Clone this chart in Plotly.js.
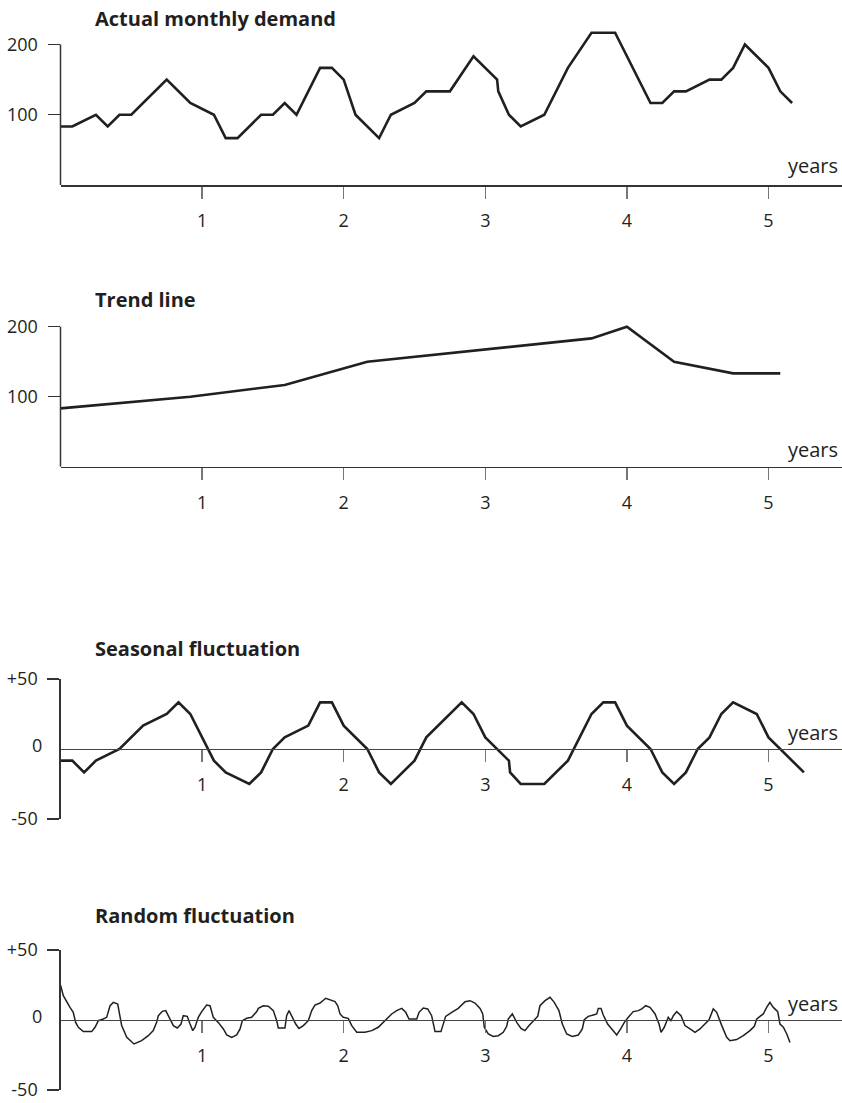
<!DOCTYPE html>
<html>
<head>
<meta charset="utf-8">
<script src="https://cdn.plot.ly/plotly-3.0.1.min.js"></script>
<style>
html,body{margin:0;padding:0;background:#fff;}
#chart{width:842px;height:1103px;}
</style>
</head>
<body>
<div id="chart"></div>
<script>
// ---- Data ----
var xTickValues = [1, 2, 3, 4, 5];
var xTickLabels = ['1', '2', '3', '4', '5'];

var demandMonths = [0,1,3,4,5,6,9,11,13,14,15,17,18,19,20,22,23,24,25,27,28,30,31,33,35,37,37.1,38,39,41,43,45,47,50,51,52,53,55,56,57,58,60,61,62];
var demandValues = [83.3,83.3,100,83.3,100,100,150,116.7,100,66.7,66.7,100,100,116.7,100,166.7,166.7,150,100,66.7,100,116.7,133.3,133.3,183.3,150,133.3,100,83.3,100,166.7,216.7,216.7,116.7,116.7,133.3,133.3,150,150,166.7,200,166.7,133.3,116.7];

var trendMonths = [0, 11, 19, 26, 45, 48, 52, 57, 61];
var trendValues = [83.3, 100, 116.7, 150, 183.3, 200, 150, 133.3, 133.3];

var seasonalMonths = [0,1,2,3,5,7,9,10,11,13,14,16,17,18,19,21,22,23,24,26,27,28,30,31,34,35,36,38,38.1,39,41,43,45,46,47,48,50,51,52,53,54,55,56,57,59,60,63];
var seasonalValues = [-8.3,-8.3,-16.7,-8.3,0,16.7,25,33.3,25,-8.3,-16.7,-25,-16.7,0,8.3,16.7,33.3,33.3,16.7,0,-16.7,-25,-8.3,8.3,33.3,25,8.3,-8.3,-16.7,-25,-25,-8.3,25,33.3,33.3,16.7,0,-16.7,-25,-16.7,0,8.3,25,33.3,25,8.3,-16.7];

var randomYears = [0,0.020,0.067,0.090,0.107,0.126,0.161,0.220,0.244,0.267,0.302,0.326,0.350,0.373,0.404,0.420,0.432,0.468,0.519,0.573,0.620,0.655,0.679,0.691,0.719,0.743,0.766,0.797,0.825,0.851,0.867,0.895,0.915,0.934,0.950,0.973,0.997,1.032,1.056,1.079,1.114,1.150,1.174,1.209,1.244,1.268,1.284,1.315,1.350,1.386,1.397,1.432,1.468,1.503,1.527,1.538,1.585,1.597,1.614,1.633,1.661,1.684,1.715,1.750,1.774,1.797,1.833,1.873,1.903,1.939,1.958,1.974,1.997,2.032,2.057,2.092,2.150,2.198,2.244,2.292,2.339,2.374,2.410,2.438,2.461,2.516,2.532,2.562,2.593,2.621,2.645,2.687,2.703,2.720,2.763,2.809,2.857,2.892,2.927,2.963,2.982,2.993,3.021,3.056,3.092,3.127,3.151,3.162,3.191,3.222,3.252,3.280,3.309,3.339,3.370,3.386,3.422,3.457,3.487,3.520,3.544,3.575,3.614,3.657,3.685,3.699,3.727,3.763,3.787,3.798,3.817,3.833,3.864,3.893,3.928,3.956,3.982,4.010,4.045,4.081,4.105,4.133,4.163,4.199,4.227,4.241,4.264,4.292,4.311,4.328,4.352,4.382,4.410,4.446,4.481,4.516,4.552,4.580,4.610,4.634,4.670,4.705,4.728,4.775,4.822,4.869,4.900,4.917,4.940,4.963,4.987,5.010,5.034,5.065,5.081,5.105,5.129,5.152];
var randomValues = [25,17.4,9,5.5,-1.7,-5.2,-8.3,-8.3,-5.2,-0.5,0.7,1.9,10.2,12.6,11.4,3.1,-4,-12.4,-17.1,-14.8,-11.2,-7.6,-1.7,3.1,6.2,6.7,1.9,-4,-5.7,-2.9,3.1,2.6,-2.9,-7.6,-5.2,1.9,6,10.7,10.2,1.9,-1.7,-6.4,-10.7,-12.4,-10.7,-6.4,-0.5,1.2,1.9,6,8.3,10.2,9.8,6.7,-0.5,-5.7,-5.7,3.1,6.7,3.1,-2.9,-6,-4,-0.5,6.7,10.7,12.1,15.5,14.5,13.1,10.2,4.3,1.9,1.2,-4,-8.8,-8.8,-7.6,-5.2,-0.5,4.3,6.7,8.3,5.5,0.7,0.7,5.5,8.6,7.9,3.1,-8.3,-8.3,-2.9,2.6,5.5,8.3,13.1,13.8,12.1,8.3,4.3,-5.2,-10,-11.7,-11.2,-8.8,-4.5,0.7,4.3,-1.7,-6,-7.6,-4,-0.5,2.6,10.2,13.8,16.2,12.6,6.7,-2.9,-10,-11.7,-10.7,-6.4,0.2,2.6,3.6,4.3,8.3,8.3,3.6,-2.9,-6.4,-10.7,-6.4,-1.7,1.9,6,6.7,7.9,10.2,9,4.3,-2.9,-8.8,-5.2,1.9,-0.5,3.1,6,3.1,-4,-6.4,-8.8,-6.4,-2.9,0.2,7.9,5.5,-4,-12.4,-14.8,-14,-11.2,-7.6,-4.5,0.7,2.6,4.3,9,12.6,9,6,-2.9,-5.2,-10,-16];

var panelTitles = ['Actual monthly demand', 'Trend line', 'Seasonal fluctuation', 'Random fluctuation'];
var unitLabel = 'years';

// ---- Helpers ----
function toYears(m){ return m.map(function(v){ return v/12; }); }

var ink = '#231f20';
var FONT = '"Open Sans", Lato, "DejaVu Sans", sans-serif';
var H = 1103, W = 842;
function py(pix){ return (H - pix)/H; }
function px(pix){ return pix/W; }

var xDomain = [px(60.5), 1];
var xRange = [0, 781.5/141.6];

var traces = [
  {x: toYears(demandMonths), y: demandValues, xaxis:'x', yaxis:'y', mode:'lines', line:{color:ink, width:2.6}, hoverinfo:'skip'},
  {x: toYears(trendMonths), y: trendValues, xaxis:'x2', yaxis:'y2', mode:'lines', line:{color:ink, width:2.6}, hoverinfo:'skip'},
  {x: toYears(seasonalMonths), y: seasonalValues, xaxis:'x3', yaxis:'y3', mode:'lines', line:{color:ink, width:2.6}, hoverinfo:'skip'},
  {x: randomYears, y: randomValues, xaxis:'x4', yaxis:'y4', mode:'lines', line:{color:ink, width:1.5}, hoverinfo:'skip'}
];

var tickFont = {family: FONT, size: 18, color: ink};

function xAxis(anchor, extra){
  var a = {
    domain: xDomain, range: xRange, anchor: anchor,
    showline: true, linecolor: '#333', linewidth: 1.5,
    ticks: 'outside', ticklen: 12, tickwidth: 1.5, tickcolor: '#777',
    tickvals: xTickValues, ticktext: xTickLabels,
    ticklabelstandoff: 7,
    tickfont: tickFont,
    showgrid: false, zeroline: false, fixedrange: true
  };
  for (var k in extra) a[k] = extra[k];
  return a;
}
function yAxis(anchor, domain, range, tv, tt, extra){
  var a = {
    domain: domain, range: range, anchor: anchor,
    showline: true, linecolor: '#333', linewidth: 1.5,
    ticks: 'outside', ticklen: 12, tickwidth: 1.5, tickcolor: '#333',
    tickvals: tv, ticktext: tt,
    ticklabelstandoff: 6,
    tickfont: tickFont,
    showgrid: false, zeroline: false, fixedrange: true
  };
  for (var k in extra) a[k] = extra[k];
  return a;
}

var titleFont = {family: FONT, size: 20, color: ink, weight: 'bold'};
var unitFont = {family: FONT, size: 20, color: ink};

function titleAnn(text, ypix){
  return {text: '<b>' + text + '</b>', xref:'paper', yref:'paper', x: px(93), y: py(ypix), xanchor:'left', yanchor:'middle', showarrow:false, font: titleFont};
}
function unitAnn(ypix){
  return {text: unitLabel, xref:'paper', yref:'paper', x: px(840), y: py(ypix), xanchor:'right', yanchor:'middle', showarrow:false, font: unitFont};
}
function zeroAnn(ypix){
  return {text: '0', xref:'paper', yref:'paper', x: px(44), y: py(ypix), xanchor:'right', yanchor:'middle', showarrow:false, font: tickFont};
}
function yAxisLine(yref, y0, y1){
  return {type:'line', xref:'paper', yref:yref, x0:px(60.5), x1:px(60.5), y0:y0, y1:y1, line:{color:'#333', width:1.5}};
}

var layout = {
  width: W, height: H,
  margin: {l:0, r:0, t:0, b:0, pad:0},
  paper_bgcolor: '#ffffff', plot_bgcolor: 'rgba(0,0,0,0)',
  showlegend: false,
  font: {family: FONT, size: 18, color: ink},
  xaxis: xAxis('y', {}),
  yaxis: yAxis('x', [py(185), py(23.4)], [0, 230], [100, 200], ['100', '200'], {showline: false}),
  xaxis2: xAxis('y2', {}),
  yaxis2: yAxis('x2', [py(466.7), py(316.2)], [0, 215], [100, 200], ['100', '200'], {showline: false}),
  xaxis3: xAxis('free', {position: py(749), linewidth: 1.2, linecolor: '#444'}),
  yaxis3: yAxis('x3', [py(819), py(679)], [-50, 50], [-50, 50], ['-50', '+50'], {linewidth: 1.2}),
  xaxis4: xAxis('free', {position: py(1020), linewidth: 1.2, linecolor: '#444'}),
  yaxis4: yAxis('x4', [py(1090), py(950)], [-50, 50], [-50, 50], ['-50', '+50'], {linewidth: 1.2}),
  shapes: [
    yAxisLine('y', 0, 200),
    yAxisLine('y2', 0, 200)
  ],
  annotations: [
    titleAnn(panelTitles[0], 18),
    titleAnn(panelTitles[1], 300),
    titleAnn(panelTitles[2], 648),
    titleAnn(panelTitles[3], 915),
    unitAnn(166),
    unitAnn(449),
    unitAnn(732),
    unitAnn(1003),
    zeroAnn(745),
    zeroAnn(1016)
  ]
};

Plotly.newPlot('chart', traces, layout, {staticPlot: true, displayModeBar: false});
</script>
</body>
</html>
